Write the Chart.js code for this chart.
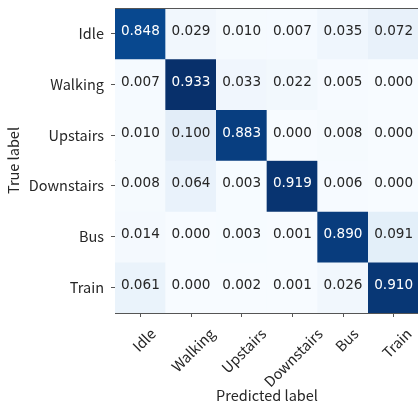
<!DOCTYPE html>
<html>
<head>
<meta charset="utf-8">
<script src="https://cdn.jsdelivr.net/npm/chart.js@4/dist/chart.umd.min.js"></script>
<style>
  html, body { margin: 0; padding: 0; background: #ffffff; overflow: hidden; }
  #wrap { width: 419px; height: 404px; }
</style>
</head>
<body>
<div id="wrap"><canvas id="cm" width="419" height="404"></canvas></div>
<script>
// Class names for both axes of the confusion matrix
const trueLabels = ['Idle', 'Walking', 'Upstairs', 'Downstairs', 'Bus', 'Train'];
const predictedLabels = ['Idle', 'Walking', 'Upstairs', 'Downstairs', 'Bus', 'Train'];

// Normalized confusion matrix, one array per true class (columns = predicted class)
const rowIdle       = [0.848, 0.029, 0.010, 0.007, 0.035, 0.072];
const rowWalking    = [0.007, 0.933, 0.033, 0.022, 0.005, 0.000];
const rowUpstairs   = [0.010, 0.100, 0.883, 0.000, 0.008, 0.000];
const rowDownstairs = [0.008, 0.064, 0.003, 0.919, 0.006, 0.000];
const rowBus        = [0.014, 0.000, 0.003, 0.001, 0.890, 0.091];
const rowTrain      = [0.061, 0.000, 0.002, 0.001, 0.026, 0.910];

const rows = [rowIdle, rowWalking, rowUpstairs, rowDownstairs, rowBus, rowTrain];

// "Blues" sequential colour map
const bluesStops = ['#f7fbff', '#deebf7', '#c6dbef', '#9ecae1', '#6baed6',
                    '#4292c6', '#2171b5', '#08519c', '#08306b'];
function hexToRgb(h) {
  return [parseInt(h.slice(1, 3), 16), parseInt(h.slice(3, 5), 16), parseInt(h.slice(5, 7), 16)];
}
function blues(t) {
  t = Math.max(0, Math.min(1, t));
  const pos = t * (bluesStops.length - 1);
  const i = Math.min(Math.floor(pos), bluesStops.length - 2);
  const f = pos - i;
  const a = hexToRgb(bluesStops[i]), b = hexToRgb(bluesStops[i + 1]);
  const c = a.map((v, k) => Math.round(v + (b[k] - v) * f));
  return `rgb(${c[0]},${c[1]},${c[2]})`;
}

const allValues = rows.flat();
const vMax = Math.max(...allValues);
const vMin = Math.min(...allValues);
const textThreshold = (vMax + vMin) / 2;

// Each true class is a dataset of floating bars spanning its row band
const datasets = rows.map((row, r) => ({
  label: trueLabels[r],
  data: predictedLabels.map(() => [r, r + 1]),
  values: row,
  backgroundColor: row.map(v => blues((v - vMin) / (vMax - vMin))),
  borderWidth: 0,
  barPercentage: 1,
  categoryPercentage: 1,
  grouped: false
}));

const tickFont = { family: '"Noto Sans CJK JP", "Noto Sans", sans-serif', size: 14.5 };
const axisColor = '#555555';
const labelColor = '#262626';

// Writes the value inside each cell
const cellText = {
  id: 'cellText',
  afterDatasetsDraw(chart) {
    const ctx = chart.ctx;
    ctx.save();
    ctx.font = '13.6px "DejaVu Sans", sans-serif';
    ctx.textAlign = 'center';
    ctx.textBaseline = 'alphabetic';
    chart.data.datasets.forEach((ds, di) => {
      const meta = chart.getDatasetMeta(di);
      meta.data.forEach((el, i) => {
        const v = ds.values[i];
        const cy = (el.y + el.base) / 2;
        ctx.fillStyle = v > textThreshold ? '#ffffff' : labelColor;
        ctx.fillText(v.toFixed(3), el.x, cy + 1.5);
      });
    });
    ctx.restore();
  }
};

// Top spine plus rotated class names under the bottom axis
const frameAndLabels = {
  id: 'frameAndLabels',
  afterDraw(chart) {
    const ctx = chart.ctx;
    const area = chart.chartArea;
    ctx.save();
    ctx.strokeStyle = axisColor;
    ctx.lineWidth = 1;
    ctx.beginPath();
    ctx.moveTo(area.left, area.top + 0.5);
    ctx.lineTo(area.right, area.top + 0.5);
    ctx.stroke();

    const xs = chart.scales.x;
    ctx.font = `${tickFont.size}px ${tickFont.family}`;
    ctx.fillStyle = labelColor;
    ctx.textAlign = 'right';
    ctx.textBaseline = 'middle';
    predictedLabels.forEach((lab, i) => {
      const px = xs.getPixelForTick(i);
      const w = ctx.measureText(lab).width;
      ctx.save();
      ctx.translate(px + 0.3 * w + 5, 331);
      ctx.rotate(-Math.PI / 4);
      ctx.fillText(lab, 0, 0);
      ctx.restore();
    });
    ctx.restore();
  }
};

new Chart(document.getElementById('cm'), {
  type: 'bar',
  data: { labels: predictedLabels, datasets },
  plugins: [cellText, frameAndLabels],
  options: {
    responsive: false,
    animation: false,
    layout: { padding: { top: 8, right: 0, left: 0, bottom: 0 } },
    plugins: { legend: { display: false }, tooltip: { enabled: false } },
    scales: {
      x: {
        type: 'category',
        offset: true,
        afterFit(scale) {
          scale.height = 91;
          scale.paddingLeft = 0;
          scale.paddingRight = 0;
        },
        grid: { display: true, drawOnChartArea: false, drawTicks: true, tickLength: 4, color: axisColor, offset: false },
        border: { display: true, color: axisColor, width: 1 },
        ticks: { display: false },
        title: {
          display: true,
          text: 'Predicted label',
          color: labelColor,
          font: { family: tickFont.family, size: 14.5 },
          padding: { top: 0, bottom: 0 }
        }
      },
      y: {
        type: 'linear',
        min: 0,
        max: 6,
        reverse: true,
        afterFit(scale) {
          scale.width = 115;
          scale.paddingTop = 0;
          scale.paddingBottom = 0;
        },
        afterBuildTicks(scale) {
          scale.ticks = trueLabels.map((_, i) => ({ value: i + 0.5 }));
        },
        grid: { display: true, drawOnChartArea: false, drawTicks: true, tickLength: 4, color: axisColor },
        border: { display: true, color: axisColor, width: 1 },
        ticks: {
          padding: 7,
          color: labelColor,
          font: tickFont,
          autoSkip: false,
          callback: (v) => trueLabels[Math.floor(v)]
        },
        title: {
          display: true,
          text: 'True label',
          color: labelColor,
          font: { family: tickFont.family, size: 14.5 },
          padding: { top: 5, bottom: 0 }
        }
      }
    }
  }
});
</script>
</body>
</html>
